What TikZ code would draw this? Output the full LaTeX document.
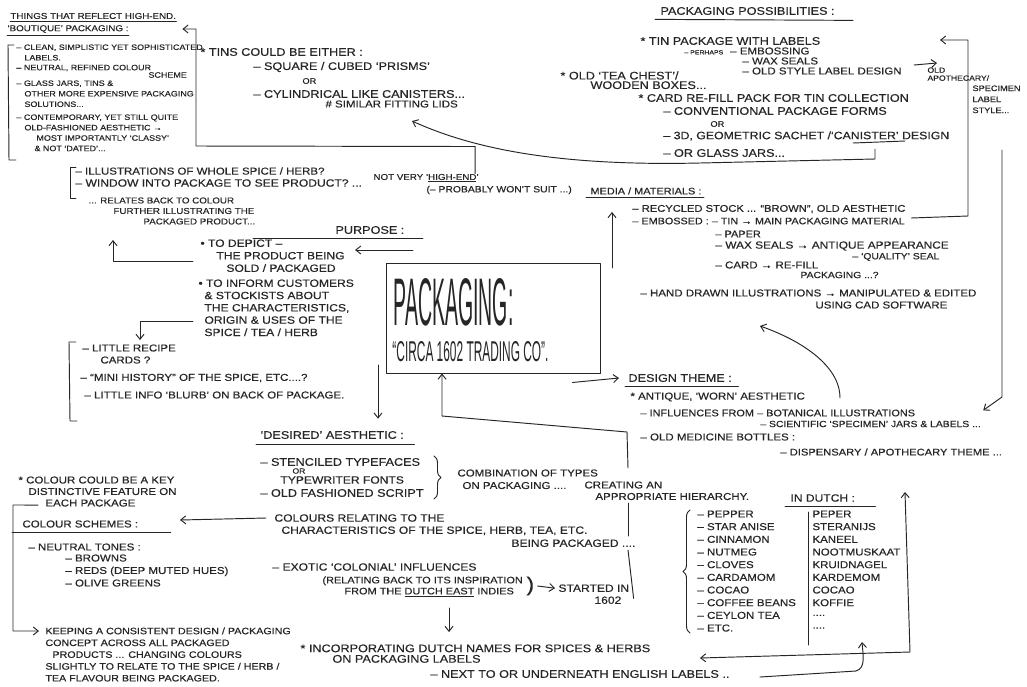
\documentclass[tikz,border=0pt]{standalone}
\usepackage{fontspec}
\newfontfamily\hand[FakeStretch=1.15,FakeBold=0.4]{Liberation Sans}
\newfontfamily\brandfont{Liberation Sans}
\newcommand{\hsz}[2]{\hand\fontsize{#1}{#2}\selectfont}
\newcommand{\fourdots}{....}
\usetikzlibrary{arrows.meta,decorations.pathreplacing}
\definecolor{ink}{HTML}{262626}

\begin{document}
\begin{tikzpicture}[x=1pt,y=-1pt,
    color=ink, line width=0.95pt, line cap=round, line join=round,
    note/.style={anchor=west, inner sep=0pt, align=left},
    block/.style={note, anchor=north west},
    arr/.style={-{Straight Barb[length=5pt,width=8pt]}},
    arrs/.style={{Straight Barb[length=5pt,width=8pt]}-{Straight Barb[length=5pt,width=8pt]}}]
    \useasboundingbox (0,0) rectangle (1027,686);
    \fill[white] (0,0) rectangle (1027,686);

    % Boutique notes (top left)
    \node[note, font=\hsz{8.5}{10}] (boutA) at (10,16) {THINGS THAT REFLECT HIGH-END.};
    \node[note, font=\hsz{8.5}{10}] (boutB) at (7,29) {‘BOUTIQUE’ PACKAGING :};
    \draw ([yshift=-2pt]boutA.south west) -- ([yshift=-2pt]boutA.south east);
    \draw ([yshift=-2pt]boutB.south west) -- ([yshift=-2pt]boutB.south east);
    \node[block, font=\hsz{7.8}{10.5}] (clean) at (16,44) {– CLEAN, SIMPLISTIC YET SOPHISTICATED\\\hspace*{8pt}LABELS.};
    \node[note, font=\hsz{7.8}{10.5}] (neutral) at (16,68) {– NEUTRAL, REFINED COLOUR};
    \node[note, font=\hsz{7.8}{10.5}] (scheme) at (148,75) {SCHEME};
    \node[block, font=\hsz{7.8}{10.5}] (glass) at (16,80) {– GLASS JARS, TINS \&\\\hspace*{8pt}OTHER MORE EXPENSIVE PACKAGING\\\hspace*{8pt}SOLUTIONS...};
    \node[block, font=\hsz{7.8}{10.4}] (contemp) at (16,114) {– CONTEMPORARY, YET STILL QUITE\\\hspace*{8pt}OLD-FASHIONED AESTHETIC →\\\hspace*{20pt}MOST IMPORTANTLY ‘CLASSY’\\\hspace*{18pt}\& NOT ‘DATED’...};
    \draw (14,45) -- (8,45) -- (9,160) -- (16,160);

    % Tins
    \node[note, font=\hsz{11}{13}] (tins) at (200,52) {* TINS COULD BE EITHER :};
    \node[note, font=\hsz{11}{13}] (square) at (253,67) {– SQUARE / CUBED ‘PRISMS’};
    \node[note, font=\hsz{8}{10}] (orA) at (302,81) {OR};
    \node[note, font=\hsz{11}{13}] (cylinder) at (253,94) {– CYLINDRICAL LIKE CANISTERS...};
    \node[note, font=\hsz{10}{12}] (lids) at (325,104) {\# SIMILAR FITTING LIDS};

    % Window / illustrations
    \node[note, font=\hsz{10}{12}] (illus) at (75,171) {– ILLUSTRATIONS OF WHOLE SPICE / HERB?};
    \node[note, font=\hsz{10.5}{12}] (window) at (75,183) {– WINDOW INTO PACKAGE TO SEE PRODUCT? ...};
    \node[note, font=\hsz{8.5}{12}] (notvery) at (373,178) {NOT VERY ‘\underline{HIGH-END}’};
    \node[note, font=\hsz{9}{12}] (probably) at (426,190) {(– PROBABLY WON’T SUIT ...)};
    \node[block, font=\hsz{8.5}{10.5}] (relates) at (88,197) {... RELATES BACK TO COLOUR\\\hspace*{25pt}FURTHER ILLUSTRATING THE\\\hspace*{55pt}PACKAGED PRODUCT...};
    \draw (76,167) -- (70,167) -- (70,198) -- (76,198);
    \draw[arr] ([xshift=-4pt]notvery.north east) -- ++(0,-27) -- (196,146) -- (196,29) -- ([xshift=6pt]boutA.east |- boutB.east);

    % Purpose
    \node[note, font=\hsz{11}{13}] (purpose) at (335,230) {PURPOSE :};
    \draw ([xshift=-82pt,yshift=-4pt]purpose.south west) -- ([xshift=18pt,yshift=-4pt]purpose.south east);
    \node[block, font=\hsz{10.5}{12.5}] (depict) at (200,239) {•\ TO DEPICT –\\\hspace*{16pt}THE PRODUCT BEING\\\hspace*{26pt}SOLD / PACKAGED};
    \node[block, font=\hsz{10.5}{12.3}] (inform) at (198,279) {•\ TO INFORM CUSTOMERS\\\hspace*{6pt}\& STOCKISTS ABOUT\\\hspace*{6pt}THE CHARACTERISTICS,\\\hspace*{6pt}ORIGIN \& USES OF THE\\\hspace*{6pt}SPICE / TEA / HERB};
    \coordinate (purposein) at (413,250);
    \coordinate (relup) at (113,240);
    \coordinate (recipedown) at (140,340);
    \draw[arr] (purposein) -- ([xshift=10pt]purposein -| depict.east);
    \draw[arr] ([xshift=-7pt,yshift=-6pt]depict.west) -| (relup);
    \draw[arr] ([xshift=-5pt,yshift=-14pt]inform.west) -| (recipedown);

    % Recipe cards
    \node[block, font=\hsz{10}{12}] (recipe) at (82,344) {– LITTLE RECIPE\\\hspace*{18pt}CARDS ?};
    \node[note, font=\hsz{10}{12}] (minihist) at (80,378) {– “MINI HISTORY” OF THE SPICE, ETC....?};
    \node[note, font=\hsz{10}{12}] (blurb) at (84,395) {– LITTLE INFO ‘BLURB’ ON BACK OF PACKAGE.};
    \draw (76,342) -- (69,342) -- (70,421) -- (77,421);

    % Centre box
    \node[draw, minimum width=214pt, minimum height=110pt] (centre) at (493,318) {};
    \node[anchor=north west, inner sep=0pt] (brand) at (393,278) {\resizebox{120pt}{47pt}{\brandfont\fontsize{70}{70}\selectfont PACKAGING:}};
    \node[anchor=north west, inner sep=0pt] (circa) at (392,341) {\resizebox{156pt}{20pt}{\brandfont\fontsize{30}{30}\selectfont “CIRCA 1602 TRADING CO”.}};

    % Packaging possibilities
    \node[note, font=\hsz{11}{13}] (posstitle) at (660,11) {PACKAGING POSSIBILITIES :};
    \draw ([xshift=-5pt,yshift=-4pt]posstitle.south west) -- ([xshift=18pt,yshift=-5pt]posstitle.south east);
    \node[note, font=\hsz{11}{13}] (tinpack) at (640,41) {* TIN PACKAGE WITH LABELS};
    \node[note, font=\hsz{10}{12}] (perhaps) at (684,51) {{\fontsize{6}{7}\selectfont – PERHAPS\ \ } – EMBOSSING};
    \node[note, font=\hsz{10}{12}] (waxa) at (742,61) {– WAX SEALS};
    \node[note, font=\hsz{10}{12}] (oldstyle) at (742,71) {– OLD STYLE LABEL DESIGN};
    \node[block, font=\hsz{7.5}{8}] (apoth) at (927,67) {OLD\\APOTHECARY/};
    \node[block, font=\hsz{8}{11}] (specimen) at (972,85) {SPECIMEN\\LABEL\\STYLE...};
    \node[block, font=\hsz{11}{9.5}] (teachest) at (560,71) {* OLD ‘TEA CHEST’/\\\hspace*{30pt}WOODEN BOXES...};
    \node[note, font=\hsz{11}{13}] (card) at (638,98) {* CARD RE-FILL PACK FOR TIN COLLECTION};
    \node[note, font=\hsz{11}{13}] (conv) at (663,111) {– CONVENTIONAL PACKAGE FORMS};
    \node[note, font=\hsz{8}{10}] (orB) at (710,124) {OR};
    \node[note, font=\hsz{10.7}{13}] (geo) at (663,136) {– 3D, GEOMETRIC SACHET /‘CANISTER’ DESIGN};
    \node[note, font=\hsz{11}{13}] (jars) at (663,153) {– OR GLASS JARS...};
    \draw (853,143) -- (905,141);
    \draw[arr] ([xshift=12pt,yshift=6pt]oldstyle.east) -- ([xshift=10pt,yshift=4pt]apoth.north west);
    \coordinate (possout) at (875,149);
    \coordinate (tinsback) at (412,121);
    \draw[arr] (possout) -- (875,159) -- (700,163) .. controls (570,166) and (480,152) .. (tinsback);

    % Media / materials
    \node[note, font=\hsz{9.5}{12}] (mediatitle) at (590,191) {MEDIA / MATERIALS :};
    \draw ([xshift=-4pt,yshift=-3pt]mediatitle.south west) -- ([xshift=2pt,yshift=-3pt]mediatitle.south east);
    \node[note, font=\hsz{9.7}{12}] (recycled) at (632,209) {– RECYCLED STOCK ... “BROWN”, OLD AESTHETIC};
    \node[note, font=\hsz{9.4}{12}] (embossed) at (632,221) {– EMBOSSED : – TIN → MAIN PACKAGING MATERIAL};
    \node[note, font=\hsz{9.5}{12}] (paper) at (715,234) {– PAPER};
    \node[note, font=\hsz{10.3}{12}] (waxb) at (715,246) {– WAX SEALS → ANTIQUE APPEARANCE};
    \node[note, font=\hsz{9}{12}] (quality) at (852,257) {– ‘QUALITY’ SEAL};
    \node[note, font=\hsz{10}{12}] (cardb) at (715,265) {– CARD → RE-FILL};
    \node[note, font=\hsz{9}{12}] (refill) at (800,275) {PACKAGING ...?};
    \node[note, font=\hsz{10}{12}] (handdrawn) at (640,293) {– HAND DRAWN ILLUSTRATIONS → MANIPULATED \& EDITED};
    \node[note, font=\hsz{10}{12}] (cad) at (815,305) {USING CAD SOFTWARE};
    \coordinate (mediafoot) at (612,268);
    \coordinate (possback) at (940,40);
    \draw[arr] (mediafoot) -- ([yshift=-17pt]mediafoot |- mediatitle.south);
    \draw[arr] ([xshift=6pt,yshift=3pt]embossed.east) -- (968,216) -- (968,40) -- (possback);

    % Design theme
    \node[note, font=\hsz{11}{13}] (designtitle) at (628,378) {DESIGN THEME :};
    \draw ([xshift=-3pt,yshift=-4pt]designtitle.south west) -- ([xshift=6pt,yshift=-4pt]designtitle.south east);
    \node[note, font=\hsz{10}{12}] (antique) at (630,397) {* ANTIQUE, ‘WORN’ AESTHETIC};
    \node[note, font=\hsz{9.5}{12}] (influences) at (640,413) {– INFLUENCES FROM – BOTANICAL ILLUSTRATIONS};
    \node[note, font=\hsz{9}{12}] (scientific) at (760,424) {– SCIENTIFIC ‘SPECIMEN’ JARS \& LABELS ...};
    \node[note, font=\hsz{10}{12}] (medicine) at (640,437) {– OLD MEDICINE BOTTLES :};
    \node[note, font=\hsz{9.7}{12}] (dispensary) at (780,452) {– DISPENSARY / APOTHECARY THEME ...};
    \coordinate (botanical) at (840,398);
    \coordinate (drawnin) at (760,326);
    \coordinate (specline) at (1002,150);
    \draw[arr] (botanical) .. controls (840,365) and (800,340) .. (drawnin);
    \draw[arr] (specline) -- (1002,397) -- ([xshift=2pt,yshift=10pt]scientific.north east);

    % Desired aesthetic
    \node[note, font=\hsz{11}{13}] (desired) at (260,435) {‘DESIRED’ AESTHETIC :};
    \draw ([xshift=-4pt,yshift=-5pt]desired.south west) -- ([xshift=10pt,yshift=-5pt]desired.south east);
    \node[note, font=\hsz{11}{13}] (stencil) at (260,462) {– STENCILED TYPEFACES};
    \node[note, font=\hsz{7.5}{9}] (orC) at (292,471) {OR};
    \node[note, font=\hsz{10.5}{13}] (typewriter) at (280,480) {TYPEWRITER FONTS};
    \node[note, font=\hsz{11}{13}] (oldscript) at (260,493) {– OLD FASHIONED SCRIPT};
    \draw[decorate, decoration={brace, amplitude=7pt}] (434,456) -- (434,499);
    \node[block, font=\hsz{10}{12.5}] (combination) at (457,469) {COMBINATION OF TYPES\\\hspace*{5pt}ON PACKAGING ....};
    \node[block, font=\hsz{10}{11.5}] (creating) at (584,481) {CREATING AN\\\hspace*{11pt}APPROPRIATE HIERARCHY.};
    \node[note, font=\hsz{10.5}{13}] (colours) at (274,518) {COLOURS RELATING TO THE};
    \node[block, font=\hsz{10.5}{13}] (character) at (281,526) {CHARACTERISTICS OF THE SPICE, HERB, TEA, ETC.\\\hspace*{230pt}BEING PACKAGED ....};
    \node[note, font=\hsz{10.5}{13}] (exotic) at (272,567) {– EXOTIC ‘COLONIAL’ INFLUENCES};
    \node[block, font=\hsz{9.5}{11}] (relating) at (322,576) {(RELATING BACK TO ITS INSPIRATION\\\hspace*{22pt}FROM THE \underline{DUTCH EAST} INDIES};
    \node[note, font=\hsz{20}{20}] (paren) at (526,586) {)};
    \node[block, font=\hsz{10.5}{12}] (startedin) at (558,584) {STARTED IN\\\hspace*{36pt}1602};
    \node[block, font=\hsz{11}{10.5}] (incorp) at (300,644) {* INCORPORATING DUTCH NAMES FOR SPICES \& HERBS\\\hspace*{32pt}ON PACKAGING LABELS};
    \node[note, font=\hsz{11}{13}] (nextto) at (430,674) {– NEXT TO OR UNDERNEATH ENGLISH LABELS ..};
    \coordinate (schemesin) at (180,520);
    \coordinate (dutchdown) at (449,608);
    \draw[arr] ([xshift=-8pt]colours.west) -- (schemesin);
    \draw[arr] ([xshift=3pt]paren.east) -- ([xshift=-3pt,yshift=6pt]startedin.west);
    \draw[arr] (dutchdown) -- ([yshift=12pt]dutchdown |- incorp.north);

    % Links round the centre box
    \coordinate (aesthin) at (378,365);
    \draw[arr] (aesthin) -- ([yshift=12pt]aesthin |- desired.north);
    \draw[arr] ([xshift=-28pt,yshift=-9pt]centre.south east) -- ([xshift=-9pt]designtitle.west);
    \draw ([xshift=4pt,yshift=6pt]startedin.south east) -- (628,550);
    \draw (628,536) -- (628,503);
    \draw[arr] (628,468) -- (627,432) -- (442,416) -- ([xshift=-51pt]centre.south);

    % Colour schemes
    \node[block, font=\hsz{10}{11.5}] (colourkey) at (18,476) {* COLOUR COULD BE A KEY\\\hspace*{10pt}DISTINCTIVE FEATURE ON\\\hspace*{27pt}EACH PACKAGE};
    \node[note, font=\hsz{10}{12}] (schemes) at (22,524) {COLOUR SCHEMES :};
    \draw ([xshift=-10pt,yshift=-4pt]schemes.south west) -- ([xshift=32pt,yshift=-4pt]schemes.south east);
    \node[note, font=\hsz{10}{12}] (neutraltones) at (28,547) {– NEUTRAL TONES :};
    \node[block, font=\hsz{10}{12.5}] (tones) at (65,554) {– BROWNS\\– REDS (DEEP MUTED HUES)\\– OLIVE GREENS};
    \node[block, font=\hsz{9.3}{11.8}] (keeping) at (45,627) {KEEPING A CONSISTENT DESIGN / PACKAGING\\CONCEPT ACROSS ALL PACKAGED\\\hspace*{7pt}PRODUCTS ... CHANGING COLOURS\\SLIGHTLY TO RELATE TO THE SPICE / HERB /\\TEA FLAVOUR BEING PACKAGED.};
    \draw[arr] ([xshift=20pt,yshift=2pt]colourkey.south west) -- (13,505) |- ([xshift=-6pt,yshift=-4pt]keeping.north west);

    % In Dutch list
    \node[note, font=\hsz{10.5}{12}] (dutchtitle) at (790,498) {IN DUTCH :};
    \draw ([xshift=-5pt,yshift=-4pt]dutchtitle.south west) -- ([xshift=20pt,yshift=-4pt]dutchtitle.south east);
    \foreach \en/\nl [count=\i from 0] in {PEPPER/PEPER, STAR ANISE/STERANIJS, CINNAMON/KANEEL, NUTMEG/NOOTMUSKAAT, CLOVES/KRUIDNAGEL, CARDAMOM/KARDEMOM, COCAO/COCAO, COFFEE BEANS/KOFFIE, CEYLON TEA/\fourdots, ETC./\fourdots} {
      \node[note, font=\hsz{10}{12}] (en\i) at (697,{514+12.67*\i}) {– \en};
      \node[note, font=\hsz{10}{12}] (nl\i) at (812,{514+12.67*\i}) {\nl};
    }
    \draw (808,512) -- (808,645);
    \draw[decorate, decoration={brace, amplitude=7pt}] (690,633) -- (690,510);
    \coordinate (listup) at (862,642);
    \coordinate (englishin) at (700,658);
    \coordinate (apothup) at (905,492);
    \draw[arr] ([xshift=30pt,yshift=-3pt]nextto.east) -- (856,671) .. controls (866,668) and (863,655) .. (listup);
    \draw[arrs] (englishin) -- (910,652) -- (apothup);
\end{tikzpicture}
\end{document}
